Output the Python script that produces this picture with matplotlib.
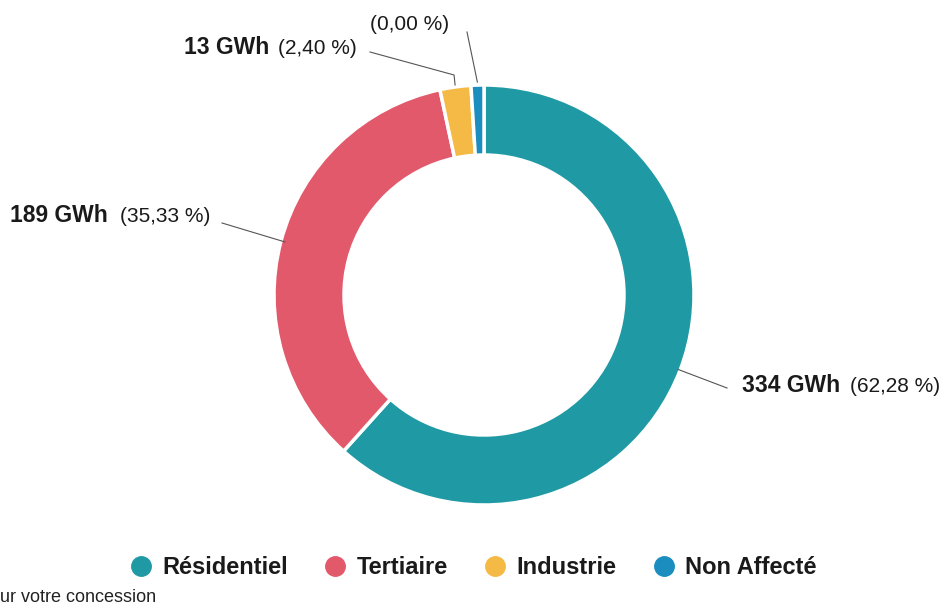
import matplotlib
matplotlib.use("Agg")
import matplotlib.pyplot as plt
from matplotlib.lines import Line2D
import numpy as np

plt.rcParams['font.family'] = ['Liberation Sans', 'DejaVu Sans']

categories = ["Résidentiel", "Tertiaire", "Industrie", "Non Affecté"]
energy_gwh = [334, 189, 13, 0]
shares_pct = [62.28, 35.33, 2.40, 0.00]
value_labels = ["334 GWh", "189 GWh", "13 GWh", ""]
pct_labels = ["(62,28 %)", "(35,33 %)", "(2,40 %)", "(0,00 %)"]
colors = ["#1f9aa4", "#e3596c", "#f5ba45", "#1b8dbf"]

W, H = 947, 606
fig = plt.figure(figsize=(W / 100, H / 100), dpi=100)
ax = fig.add_axes([0, 0, 1, 1])

def Y(y):
    return H - y

cx, cy, R, ring = 484, Y(295), 210, 70
# tiny slices are given a minimal visible width, as in the original chart
disp = [max(s, 1.0) for s in shares_pct]
wedges, _ = ax.pie(disp, colors=colors, startangle=90, counterclock=False,
                   center=(cx, cy), radius=R, frame=True,
                   wedgeprops=dict(width=ring, edgecolor='white', linewidth=2.5))
ax.set_xlim(0, W)
ax.set_ylim(0, H)
ax.set_aspect('equal')
ax.axis('off')

def mid_point(w, r):
    a = np.deg2rad((w.theta1 + w.theta2) / 2)
    return cx + r * np.cos(a), cy + r * np.sin(a)

lc = '#555555'
tc = '#1a1a1a'
bold_fs, reg_fs = 16.5, 15

# Résidentiel
x0, y0 = mid_point(wedges[0], R - 2)
ax.plot([x0, 727], [y0, Y(388)], color=lc, lw=0.8)
ax.text(742, Y(386), value_labels[0], fontsize=bold_fs, fontweight='bold', va='center', ha='left', color=tc)
ax.text(850, Y(387), pct_labels[0], fontsize=reg_fs, va='center', ha='left', color=tc)

# Tertiaire
x1, y1 = mid_point(wedges[1], R - 4)
ax.plot([x1, 222], [y1, Y(223)], color=lc, lw=0.8)
ax.text(10, Y(216), value_labels[1], fontsize=bold_fs, fontweight='bold', va='center', ha='left', color=tc)
ax.text(120, Y(217), pct_labels[1], fontsize=reg_fs, va='center', ha='left', color=tc)

# Industrie
x2, y2 = mid_point(wedges[2], R + 2)
ax.plot([x2, x2 - 1, 370], [y2, Y(75), Y(52)], color=lc, lw=0.8)
ax.text(184, Y(47), value_labels[2], fontsize=bold_fs, fontweight='bold', va='center', ha='left', color=tc)
ax.text(278, Y(48), pct_labels[2], fontsize=reg_fs, va='center', ha='left', color=tc)

# Non Affecté
x3, y3 = mid_point(wedges[3], R + 3)
ax.plot([x3, 467], [y3, Y(32)], color=lc, lw=0.8)
ax.text(370, Y(24), pct_labels[3], fontsize=reg_fs, va='center', ha='left', color=tc)

handles = [Line2D([0], [0], marker='o', linestyle='none', markersize=14,
                  markerfacecolor=c, markeredgecolor=c) for c in colors]
leg = fig.legend(handles, categories, loc='center', bbox_to_anchor=(473 / W, 1 - 568 / H),
                 ncol=4, frameon=False, handlelength=1.0, handletextpad=0.4,
                 columnspacing=1.5, prop={'weight': 'bold', 'size': 17})
for t in leg.get_texts():
    t.set_color(tc)

fig.text(0, 1 - 597 / H, "ur votre concession", fontsize=13, va='center', ha='left', color='#222222')

fig.savefig("out.png", dpi=100, facecolor='white')
